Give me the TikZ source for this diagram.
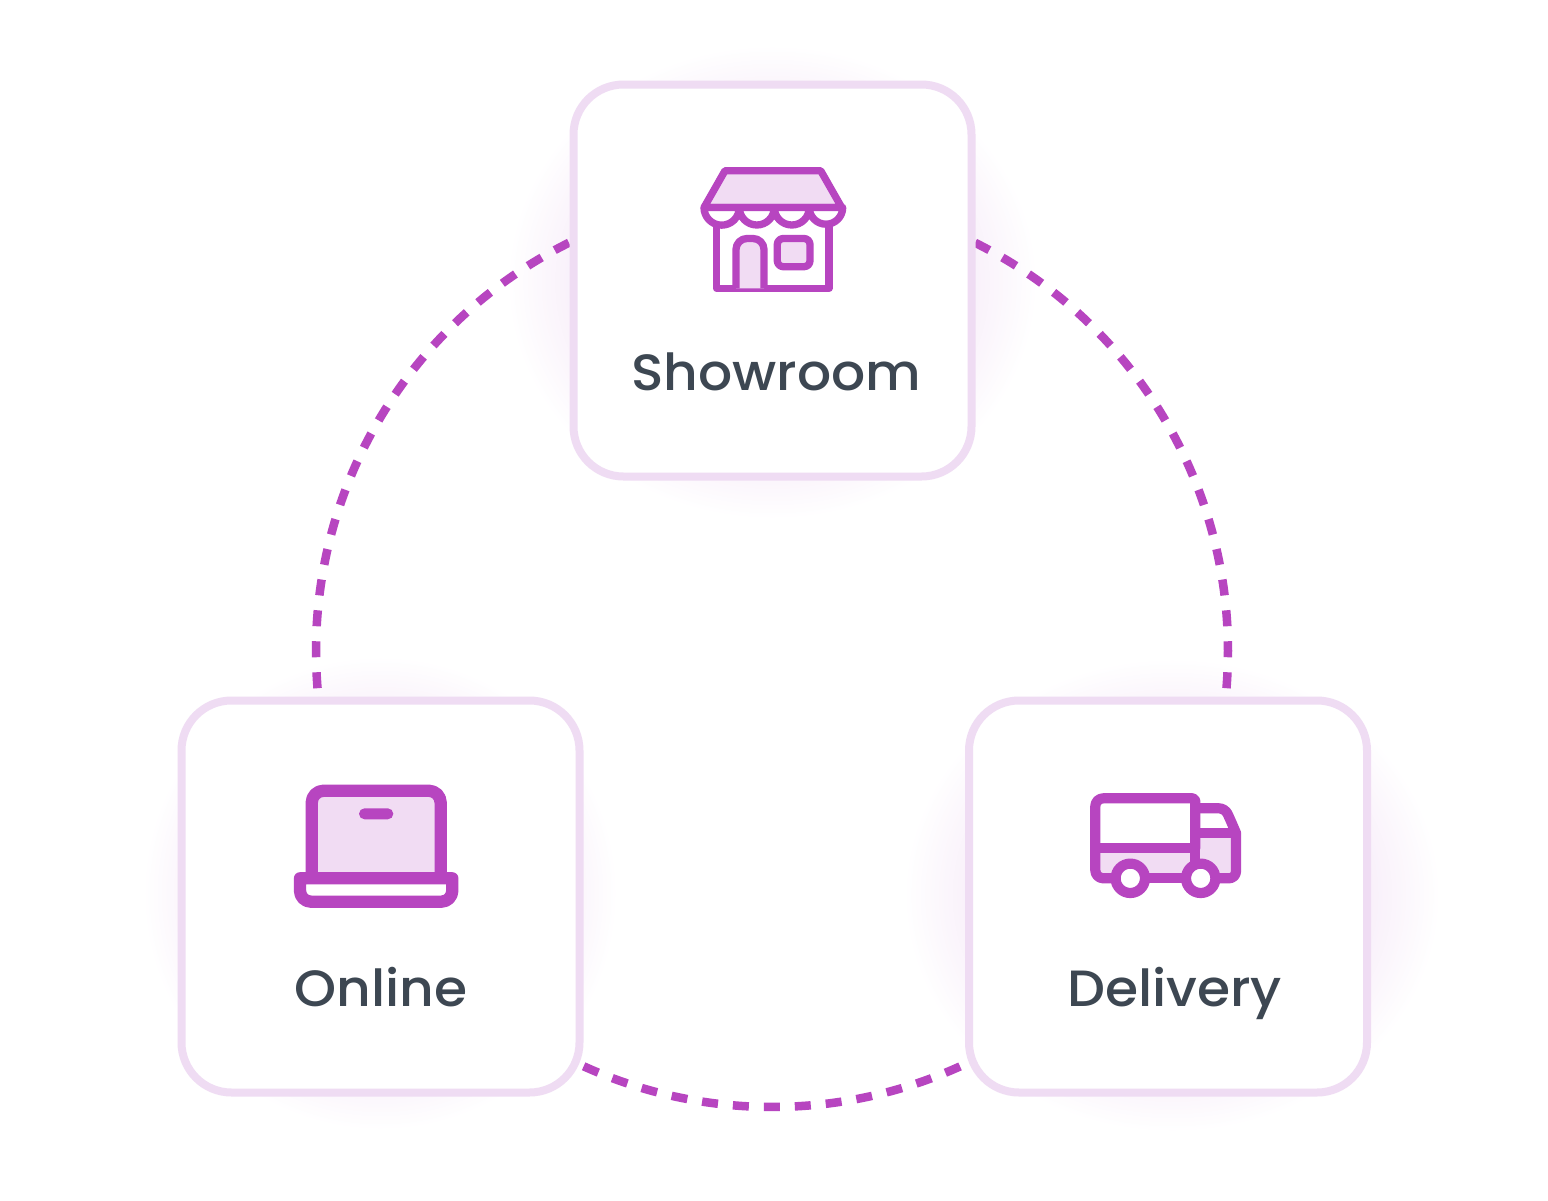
\documentclass[tikz,border=0pt]{standalone}
\usepackage{fontspec}
\setmainfont{Poppins}[UprightFont={* Medium},UprightFeatures={FakeStretch=1.05}]
\usetikzlibrary{calc,shapes.geometric}
\definecolor{pur}{HTML}{B745C0}
\definecolor{pale}{HTML}{F1DCF3}
\definecolor{edge}{HTML}{EFDCF3}
\definecolor{ink}{HTML}{3D4752}
\definecolor{halo}{HTML}{F6EAF8}
\pgfdeclareradialshading{glow}{\pgfpoint{0bp}{0bp}}{color(0bp)=(halo); color(16bp)=(halo); color(25bp)=(white); color(50bp)=(white)}
\tikzset{
  x=1pt,y=-1pt,
  card/.style={draw=edge,fill=white,line width=8pt,rounded corners=50pt,minimum width=398pt,minimum height=392pt,inner sep=0pt},
  label text/.style={text=ink,font=\fontsize{51}{51}\selectfont,anchor=base,inner sep=0pt},
  ring/.style={draw=pur,line width=8.5pt,dash pattern=on 16pt off 15pt},
  haze/.style={ellipse,minimum width=#1,inner sep=0pt,shading=glow,draw=none},
  ico/.style={draw=pur,line join=round,line cap=round},
}
\begin{document}
\begin{tikzpicture}
\useasboundingbox (0,0) rectangle (1548,1200);
\fill[white] (0,0) rectangle (1548,1200);
% glows
\node[haze=530pt,minimum height=474pt] (g1) at (772,282) {};
\node[haze=474pt,minimum height=474pt] (g2) at (380,893) {};
\node[haze=536pt,minimum height=474pt] (g3) at (1172,895) {};
% ring
\coordinate (c) at (772,651);
\coordinate (aR) at ($(c)+(-63.55:456)$);
\coordinate (aL) at ($(c)+(-116.45:456)$);
\coordinate (aB) at ($(c)+(-245.6:456)$);
\draw[ring] (aR) arc[start angle=-63.55,end angle=4.9,radius=456];
\draw[ring] (aL) arc[start angle=-116.45,end angle=-184.9,radius=456];
\draw[ring] (aB) arc[start angle=-245.6,end angle=-294.6,radius=456];
% cards
\node[card] (show) at (772.5,280.5) {};
\node[card] (onl) at (380.5,896.5) {};
\node[card] (del) at (1168,896.5) {};
\node[label text] (tshow) at (776,390) {Showroom};
\node[label text] (tonl) at (381,1006) {Online};
\node[label text] (tdel) at (1174.5,1006) {Delivery};
% store icon
\begin{scope}[ico,line width=7.3pt]
  \draw[fill=white] (716.7,222) -- (716.7,288.3) -- (829,288.3) -- (829,222);
  \draw[fill=pale] (725,170.7) -- (820.7,170.7) -- (841.7,207.5) -- (704,207.5) -- cycle;
  \draw[fill=white] (704,207.5) arc[start angle=180,end angle=0,radius=17.65]
     arc[start angle=180,end angle=0,radius=17.5]
     arc[start angle=180,end angle=0,radius=17.5]
     arc[start angle=180,end angle=0,radius=16.7] -- cycle;
  \draw[fill=pale,line cap=butt] (736,288.3) -- (736,250) [rounded corners=11pt] -- (736,238.5) -- (764,238.5) [sharp corners] -- (764,288.3);
  \draw[fill=pale,rounded corners=6pt] (777.3,238.5) rectangle (810,266.7);
\end{scope}
% laptop icon
\begin{scope}[ico,line width=12.3pt]
  \draw[fill=pale,rounded corners=12pt,line cap=butt] (311.7,878.3) -- (311.7,790.7) -- (440.7,790.7) -- (440.7,878.3);
  \draw[fill=white] (376,878.3) -- (300,878.3) [rounded corners=11pt] -- (300,901.7) -- (452.3,901.7) [sharp corners] -- (452.3,878.3) -- cycle;
  \fill[pur,rounded corners=5.5pt,draw=none] (359,808.3) rectangle (393.3,819.3);
\end{scope}
% truck icon
\begin{scope}[ico,line width=10.2pt]
  \fill[pale,draw=none] (1095.3,848.3) rectangle (1236,878.3);
  \fill[pale,draw=none] (1195.3,833.3) rectangle (1236,850);
  \draw (1195.3,848.3) -- (1195.3,806) [rounded corners=3pt] -- (1195.3,798.3) -- (1145,798.3) [rounded corners=8pt] -- (1095.3,798.3) -- (1095.3,878.3) -- (1115,878.3);
  \draw (1095.3,848.3) -- (1195.3,848.3) -- (1195.3,864);
  \draw (1195.3,833.3) -- (1234,833.3);
  \draw (1195.3,808.3) -- (1215,808.3) [rounded corners=6pt] -- (1225,808.3) -- (1230,819) [sharp corners] -- (1236,833) -- (1236,860) [rounded corners=7pt] -- (1236,878.3) -- (1216,878.3);
  \draw (1145,878.3) -- (1186,878.3);
  \draw[fill=white] (1130.3,878.3) circle[radius=14.7];
  \draw[fill=white] (1200.7,878.3) circle[radius=14.7];
\end{scope}
\end{tikzpicture}
\end{document}
